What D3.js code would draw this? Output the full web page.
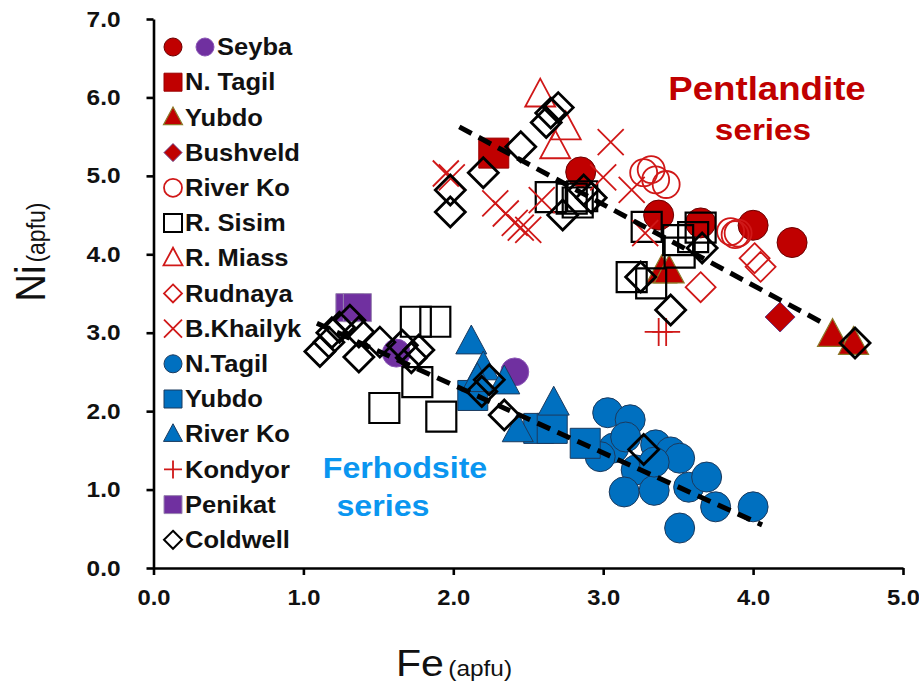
<!DOCTYPE html>
<html><head><meta charset="utf-8">
<script src="https://cdn.jsdelivr.net/npm/d3@7"></script>
<style>html,body{margin:0;padding:0;background:#fff}svg{display:block}</style>
</head><body>
<svg id="chart" width="919" height="688"></svg>
<script>
// ---------- DATA (Fe, Ni in apfu) ----------
const xTicks = [0, 1, 2, 3, 4, 5];
const yTicks = [0, 1, 2, 3, 4, 5, 6, 7];
const legendNames = ["Seyba","N. Tagil","Yubdo","Bushveld","River Ko","R. Sisim","R. Miass","Rudnaya","B.Khailyk","N.Tagil","Yubdo","River Ko","Kondyor","Penikat","Coldwell"];

const seybaRed = [[2.85,5.05],[3.37,4.50],[3.65,4.40],[4.00,4.37],[4.26,4.15]];
const seybaPurple = [[1.62,2.74],[2.41,2.50]];
const nTagilRed = [[2.27,5.29]];
const yubdoRed = [[3.39,3.78],[3.44,3.78],[4.53,2.97],[4.67,2.87]];
const bushveld = [[4.18,3.20]];
const riverKoRed = [[3.27,5.04],[3.32,5.08],[3.35,4.95],[3.42,4.89],[3.85,4.29],[3.88,4.25],[3.90,4.27]];
const rSisim = [[2.65,4.73],[2.79,4.71],[2.83,4.66],[2.86,4.74],[3.29,4.35],[3.50,4.18],[3.60,4.22],[3.65,4.34],[3.51,4.02],[3.19,3.71],[3.32,3.63],
                [1.75,3.14],[1.88,3.14],[1.76,2.37],[1.54,2.04],[1.92,1.93]];
const rMiass = [[2.58,6.03],[2.75,5.61],[2.68,5.37]];
const rudnaya = [[4.01,3.95],[4.05,3.84],[3.65,3.58]];
const bKhailyk = [[1.95,5.03],[1.99,4.98],[2.28,4.65],[2.35,4.52],[2.41,4.40],[2.45,4.34],[2.50,4.31],[2.59,4.69],[3.05,5.43],[3.00,4.98],[3.19,4.82],[3.28,4.27]];
const nTagilBlue = [[3.03,1.98],[3.18,1.89],[3.07,1.53],[2.98,1.42],[3.22,1.25],[3.14,0.97],[3.34,0.99],[3.35,1.57],[3.45,1.48],[3.51,1.40],[3.34,1.35],[3.57,1.03],[3.69,1.16],[3.75,0.78],[4.00,0.78],[3.51,0.51],[3.15,1.67]];
const yubdoBlue = [[2.13,2.20],[2.57,1.78],[2.66,1.78],[2.88,1.59]];
const riverKoBlue = [[2.12,2.88],[2.20,2.55],[2.34,2.37],[2.16,2.40],[2.43,1.76],[2.67,2.10]];
const kondyor = [[3.37,3.01],[3.42,3.01]];
const penikat = [[1.31,3.32],[1.36,3.32]];
const coldwell = [[2.62,5.68],[2.65,5.80],[2.70,5.87],[2.45,5.37],[2.20,5.04],[1.98,4.82],[1.98,4.54],[2.87,4.82],[2.73,4.50],[2.92,4.72],[3.66,4.08],[3.25,3.71],[3.45,3.29],[4.68,2.87],
                  [1.11,2.76],[1.17,2.88],[1.24,3.07],[1.31,3.16],[1.37,3.01],[1.37,2.69],[1.19,3.00],[1.51,2.88],[1.66,2.84],[1.72,2.68],[1.77,2.78],[2.24,2.40],[2.19,2.25],[2.34,1.95],[3.27,1.51]];
const pentlanditeTrend = [[2.04,5.625],[4.47,3.12]];
const ferhodsiteTrend = [[1.09,3.12],[4.06,0.55]];

// ---------- STYLES ----------
const RED = "#c00000", BLUE = "#0070c0", PURPLE = "#7030a0";
const series = [
  {data: seybaRed,   shape:"circle",   size:30, fill:RED,    stroke:"#6b0000", sw:1},
  {data: seybaPurple,shape:"circle",   size:28, fill:PURPLE, stroke:"#8a55b5", sw:1},
  {data: nTagilRed,  shape:"square",   size:30, fill:RED,    stroke:"#9a0000", sw:1},
  {data: yubdoRed,   shape:"triangle", size:30, fill:RED,    stroke:"#8c7a2a", sw:1.2},
  {data: bushveld,   shape:"diamond",  size:30, fill:RED,    stroke:"#6a3a80", sw:1},
  {data: riverKoRed, shape:"circle",   size:27, fill:"none", stroke:"#d01818", sw:1.8},
  {data: rSisim,     shape:"square",   size:30, fill:"none", stroke:"#000",    sw:2.2},
  {data: rMiass,     shape:"triangle", size:30, fill:"none", stroke:"#d01818", sw:1.8},
  {data: rudnaya,    shape:"diamond",  size:30, fill:"none", stroke:"#d01818", sw:1.8},
  {data: bKhailyk,   shape:"x",        size:26, fill:"none", stroke:"#d01818", sw:1.8},
  {data: nTagilBlue, shape:"circle",   size:30, fill:BLUE,   stroke:"#1b3a5e", sw:1},
  {data: yubdoBlue,  shape:"square",   size:30, fill:BLUE,   stroke:"#1b3a5e", sw:1},
  {data: riverKoBlue,shape:"triangle", size:31, fill:BLUE,   stroke:"#1b3a5e", sw:1},
  {data: kondyor,    shape:"plus",     size:28, fill:"none", stroke:"#d01818", sw:1.8},
  {data: penikat,    shape:"square",   size:28, fill:PURPLE, stroke:"#9a86b0", sw:1},
  {data: coldwell,   shape:"diamond",  size:30, fill:"none", stroke:"#000",    sw:2.8}
];

function shapePath(t, s){
  const h = s/2;
  switch(t){
    case "circle": return `M${h},0A${h},${h} 0 1,1 ${-h},0A${h},${h} 0 1,1 ${h},0Z`;
    case "square": return `M${-h},${-h}H${h}V${h}H${-h}Z`;
    case "triangle": return `M0,${-s*0.55}L${h},${s*0.38}L${-h},${s*0.38}Z`;
    case "diamond": return `M0,${-h}L${h},0L0,${h}L${-h},0Z`;
    case "x": return `M${-h},${-h}L${h},${h}M${h},${-h}L${-h},${h}`;
    case "plus": return `M${-h},0H${h}M0,${-h}V${h}`;
  }
}

// ---------- CHART ----------
const svg = d3.select("#chart");
const x = d3.scaleLinear().domain([0,5]).range([153.5,903]);
const y = d3.scaleLinear().domain([0,7]).range([568,19]);
const SX = 1.11;
const FONT = "'Liberation Sans', Arial, sans-serif";

// markers
const gPts = svg.append("g");
series.forEach(se => {
  gPts.append("g").selectAll("path").data(se.data).join("path")
    .attr("transform", d => `translate(${x(d[0])},${y(d[1])})`)
    .attr("d", shapePath(se.shape, se.size))
    .attr("fill", se.fill).attr("stroke", se.stroke).attr("stroke-width", se.sw);
});

// trend lines
const line = d3.line().x(d => x(d[0])).y(d => y(d[1]));
[pentlanditeTrend, ferhodsiteTrend].forEach(t => {
  svg.append("path").attr("d", line(t)).attr("fill","none").attr("stroke","#000")
    .attr("stroke-width",5).attr("stroke-dasharray","14,8");
});

// axes
const xAxis = svg.append("g").attr("transform","translate(0,568)")
  .call(d3.axisBottom(x).tickValues(xTicks).tickFormat(d3.format(".1f")).tickSizeInner(7).tickSizeOuter(0).tickPadding(14));
const yAxis = svg.append("g").attr("transform","translate(153.5,0)")
  .call(d3.axisLeft(y).tickValues(yTicks).tickFormat(d3.format(".1f")).tickSizeInner(7).tickSizeOuter(0).tickPadding(26));
[xAxis, yAxis].forEach(a => {
  a.select(".domain").attr("stroke","#000").attr("stroke-width",2.6);
  a.selectAll(".tick line").attr("stroke","#000").attr("stroke-width",2.6);
  a.selectAll(".tick text").attr("font-family",FONT).attr("font-weight","bold")
    .attr("font-size",22).attr("fill","#111");
});
xAxis.selectAll(".tick text").each(function(){
  const t = d3.select(this); const yy = +t.attr("y");
  t.attr("y",null).attr("dy","0.71em").attr("transform",`translate(0,${yy}) scale(1.08,1)`);
});
yAxis.selectAll(".tick text").each(function(){
  const t = d3.select(this); const xx = +t.attr("x");
  t.attr("x",null).attr("transform",`translate(${xx},0) scale(${SX},1)`);
});

// axis titles
const xt = svg.append("text").attr("transform",`translate(454,676) scale(${SX},1)`)
  .attr("text-anchor","middle").attr("font-family",FONT).attr("fill","#111");
xt.append("tspan").attr("font-size",37).text("Fe");
xt.append("tspan").attr("font-size",22).attr("dx",4).text("(apfu)");
const yt = svg.append("text").attr("transform",`translate(45,252) rotate(-90) scale(1,${SX})`)
  .attr("text-anchor","middle").attr("font-family",FONT).attr("fill","#111");
yt.append("tspan").attr("font-size",38).text("Ni");
yt.append("tspan").attr("font-size",23).attr("dx",3).text("(apfu)");

// annotations
function label(txt, cx, cy, size, color){
  svg.append("text").attr("transform",`translate(${cx},${cy}) scale(${SX},1)`)
    .attr("text-anchor","middle").attr("font-family",FONT).attr("font-weight","bold")
    .attr("font-size",size).attr("fill",color).text(txt);
}
label("Pentlandite", 767, 100, 33, RED);
label("series", 763, 140, 30, RED);
label("Ferhodsite", 405, 478, 29, "#0a96f0");
label("series", 383, 516, 29, "#0a96f0");

// legend
const legendStyles = [0,2,3,4,5,6,7,8,9,10,11,12,13,14,15];
const lg = svg.append("g");
legendNames.forEach((name, i) => {
  const cy = 47 + i*35.2;
  const se = series[legendStyles[i]];
  const small = se.shape === "triangle" ? 19 : 18;
  lg.append("path").attr("transform",`translate(173,${cy})`).attr("d", shapePath(se.shape, small))
    .attr("fill", se.fill).attr("stroke", se.stroke).attr("stroke-width", Math.min(se.sw, 2));
  let tx = 185;
  if (i === 0) {
    const sp = series[1];
    lg.append("path").attr("transform",`translate(205,${cy})`).attr("d", shapePath("circle",18))
      .attr("fill", sp.fill).attr("stroke", sp.stroke).attr("stroke-width",1);
    tx = 217;
  }
  lg.append("text").attr("transform",`translate(${tx},${cy}) scale(${SX},1)`)
    .attr("dy","0.36em").attr("font-family",FONT).attr("font-weight","bold")
    .attr("font-size",23).attr("fill","#111").text(name);
});
</script>
</body></html>
